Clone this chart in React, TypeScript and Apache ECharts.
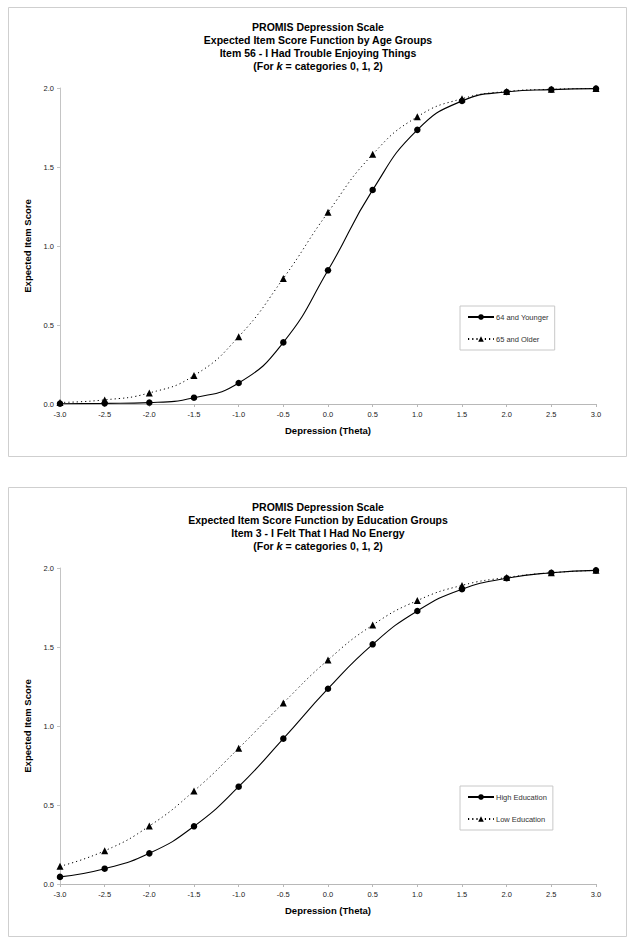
import React, { useEffect, useRef } from "react";
import * as echarts from "echarts";

const thetas = [-3.0, -2.5, -2.0, -1.5, -1.0, -0.5, 0.0, 0.5, 1.0, 1.5, 2.0, 2.5, 3.0];
const xTicks = ["-3.0", "-2.5", "-2.0", "-1.5", "-1.0", "-0.5", "0.0", "0.5", "1.0", "1.5", "2.0", "2.5", "3.0"];
const yTicks = ["0.0", "0.5", "1.0", "1.5", "2.0"];

const ageNames = ["64 and Younger", "65 and Older"];
const ageYounger = [0.002, 0.004, 0.009, 0.04, 0.133, 0.39, 0.846, 1.355, 1.735, 1.918, 1.975, 1.99, 1.996];
const ageOlder = [0.01, 0.026, 0.07, 0.18, 0.426, 0.795, 1.213, 1.58, 1.818, 1.932, 1.978, 1.992, 1.997];

const eduNames = ["High Education", "Low Education"];
const eduHigh = [0.045, 0.097, 0.194, 0.365, 0.616, 0.92, 1.236, 1.517, 1.728, 1.866, 1.935, 1.97, 1.985];
const eduLow = [0.112, 0.21, 0.367, 0.589, 0.859, 1.146, 1.418, 1.639, 1.794, 1.89, 1.94, 1.97, 1.985];

const titleAge = [
  "PROMIS Depression Scale",
  "Expected Item Score Function by Age Groups",
  "Item 56 - I Had Trouble Enjoying Things",
];
const titleEdu = [
  "PROMIS Depression Scale",
  "Expected Item Score Function by Education Groups",
  "Item 3 - I Felt That I Had No Energy",
];

const FONT = "'Liberation Sans', Arial, sans-serif";

const pairs = (ys: number[]) => thetas.map((t, i) => [t, ys[i]]);

export default function App() {
  const ref = useRef<HTMLDivElement>(null);
  useEffect(() => {
    if (!ref.current) return;
    const chart = echarts.init(ref.current, null, { renderer: "svg" });

    const gridTops = [88, 568];
    const titleTops = [20, 500];

    const makeTitle = (lines: string[], top: number) => ({
      text: lines.join("\n") + "\n(For {k|k} = categories 0, 1, 2)",
      left: 318,
      textAlign: "center",
      top,
      padding: 0,
      textStyle: {
        fontFamily: FONT,
        fontSize: 10.5,
        fontWeight: "bold",
        color: "#000",
        lineHeight: 13,
        rich: {
          k: { fontFamily: FONT, fontSize: 11, fontWeight: "bold", fontStyle: "italic", color: "#000", lineHeight: 13 },
        },
      },
    });

    const makeX = (gi: number) => ({
      type: "value",
      gridIndex: gi,
      min: -3,
      max: 3,
      interval: 0.5,
      name: "Depression (Theta)",
      nameLocation: "middle",
      nameGap: 21,
      nameTextStyle: { fontFamily: FONT, fontSize: 9.5, fontWeight: "bold", color: "#000" },
      axisLine: { show: true, onZero: false, lineStyle: { color: "#b8b8b8", width: 1 } },
      axisTick: { show: true, length: 3, lineStyle: { color: "#b8b8b8" } },
      axisLabel: {
        fontFamily: FONT,
        fontSize: 7.5,
        color: "#222",
        margin: 6,
        formatter: (v: number) => xTicks[Math.round((v + 3) / 0.5)] ?? v.toFixed(1),
      },
      splitLine: { show: false },
    });

    const makeY = (gi: number) => ({
      type: "value",
      gridIndex: gi,
      min: 0,
      max: 2,
      interval: 0.5,
      name: "Expected Item Score",
      nameLocation: "middle",
      nameGap: 18,
      nameTextStyle: { fontFamily: FONT, fontSize: 9.5, fontWeight: "bold", color: "#000" },
      axisLine: { show: true, onZero: false, lineStyle: { color: "#c4c4c4", width: 1 } },
      axisTick: { show: true, length: 3, lineStyle: { color: "#c4c4c4" } },
      axisLabel: {
        fontFamily: FONT,
        fontSize: 7.5,
        color: "#222",
        margin: 6,
        formatter: (v: number) => yTicks[Math.round(v / 0.5)] ?? v.toFixed(1),
      },
      splitLine: { show: false },
    });

    const makeSeries = (name: string, ys: number[], gi: number, solid: boolean) => ({
      type: "line",
      name,
      xAxisIndex: gi,
      yAxisIndex: gi,
      data: pairs(ys),
      smooth: 0.5,
      symbol: solid ? "circle" : "triangle",
      symbolSize: solid ? 6.5 : 7,
      showSymbol: true,
      itemStyle: { color: "#000" },
      lineStyle: solid
        ? { color: "#000", width: 1.1, type: "solid" }
        : { color: "#000", width: 1, type: [1.2, 3] },
      emphasis: { disabled: true },
      z: solid ? 3 : 2,
    });

    const makeLegend = (names: string[], top: number) => ({
      data: names,
      orient: "vertical",
      left: 460,
      top,
      width: 92,
      padding: [7, 6, 7, 7],
      itemGap: 14,
      itemWidth: 26,
      itemHeight: 7,
      backgroundColor: "#fff",
      borderColor: "#c8c8c8",
      borderWidth: 1,
      textStyle: { fontFamily: FONT, fontSize: 7.5, color: "#333", padding: [0, 0, 0, -3] },
      selectedMode: false,
    });

    chart.setOption({
      animation: false,
      backgroundColor: "#fff",
      title: [makeTitle(titleAge, titleTops[0]), makeTitle(titleEdu, titleTops[1])],
      grid: gridTops.map((t) => ({ left: 60, width: 536, top: t, height: 316, containLabel: false })),
      xAxis: [makeX(0), makeX(1)],
      yAxis: [makeY(0), makeY(1)],
      legend: [makeLegend(ageNames, 306), makeLegend(eduNames, 786)],
      series: [
        makeSeries(ageNames[0], ageYounger, 0, true),
        makeSeries(ageNames[1], ageOlder, 0, false),
        makeSeries(eduNames[0], eduHigh, 1, true),
        makeSeries(eduNames[1], eduLow, 1, false),
      ],
      graphic: [
        {
          type: "rect",
          z: -10,
          shape: { x: 8.5, y: 7.5, width: 618, height: 449 },
          style: { fill: "none", stroke: "#cfcfcf", lineWidth: 1 },
          silent: true,
        },
        {
          type: "rect",
          z: -10,
          shape: { x: 8.5, y: 487.5, width: 618, height: 449 },
          style: { fill: "none", stroke: "#cfcfcf", lineWidth: 1 },
          silent: true,
        },
      ],
    });
    return () => chart.dispose();
  }, []);
  return (
    <div
      ref={ref}
      style={{ position: "absolute", left: 0, top: 0, width: 637, height: 946, background: "#fff" }}
    />
  );
}
